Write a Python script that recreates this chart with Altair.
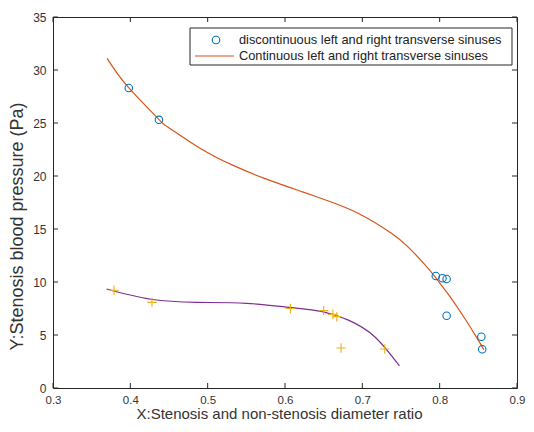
import altair as alt
import pandas as pd

# Data
circ_x = [0.398, 0.437, 0.795, 0.8036, 0.809, 0.809, 0.8539, 0.855]
circ_y = [28.3, 25.3, 10.57, 10.35, 10.28, 6.82, 4.84, 3.65]

orange_x = [0.370, 0.397, 0.4375, 0.448, 0.4907, 0.533, 0.576, 0.6227, 0.6525,
            0.695, 0.7377, 0.759, 0.780, 0.797, 0.8143, 0.831, 0.848, 0.857]
orange_y = [31.1, 28.4, 25.3, 24.65, 22.6, 21.0, 19.7, 18.5, 17.74,
            16.47, 14.59, 13.31, 11.71, 10.21, 8.52, 6.72, 4.75, 3.62]

plus_x = [0.379, 0.428, 0.607, 0.650, 0.662, 0.667, 0.6725, 0.729]
plus_y = [9.22, 8.08, 7.5, 7.3, 6.95, 6.73, 3.78, 3.68]

purple_x = [0.3693, 0.4268, 0.4865, 0.55, 0.6056, 0.648, 0.682, 0.716, 0.748]
purple_y = [9.34, 8.37, 8.08, 7.99, 7.6, 7.2, 6.4, 4.84, 2.08]

x_ticks = [0.3, 0.4, 0.5, 0.6, 0.7, 0.8, 0.9]
y_ticks = [0, 5, 10, 15, 20, 25, 30, 35]

legend_labels = ["discontinuous left and right transverse sinuses",
                 "Continuous left and right transverse sinuses"]

W, H = 464, 371
FONT = "Liberation Sans"
AX = "#262626"
TXT = "#333333"

xs = alt.Scale(domain=[0.3, 0.9], nice=False, zero=False)
ys = alt.Scale(domain=[0, 35], nice=False, zero=False)

xaxis = alt.Axis(values=x_ticks, format=".1f", title="X:Stenosis and non-stenosis diameter ratio",
                 grid=False, ticks=False, domain=False, labelFlush=False, labelPadding=6,
                 labelFontSize=11.5, labelColor=TXT, titleFontSize=15, titleFontWeight="normal",
                 titleColor=TXT, titleX=226, titleY=30, titleBaseline="alphabetic",
                 labelFont=FONT, titleFont=FONT)
yaxis = alt.Axis(values=y_ticks, format="d", title="Y:Stenosis blood pressure (Pa)",
                 grid=False, ticks=False, domain=False, labelFlush=False, labelPadding=7,
                 labelFontSize=12, labelColor=TXT, titleFontSize=18, titleFontWeight="normal",
                 titleColor=TXT, titlePadding=6, titleY=209, labelFont=FONT, titleFont=FONT)

df_c = pd.DataFrame({"x": circ_x, "y": circ_y})
df_o = pd.DataFrame({"x": orange_x, "y": orange_y})
df_p = pd.DataFrame({"x": plus_x, "y": plus_y})
df_u = pd.DataFrame({"x": purple_x, "y": purple_y})
df_xt = pd.DataFrame({"x": x_ticks})
df_yt = pd.DataFrame({"y": y_ticks})

orange = alt.Chart(df_o).mark_line(color="#D95319", strokeWidth=1.2, interpolate="natural").encode(
    x=alt.X("x:Q", scale=xs, axis=xaxis), y=alt.Y("y:Q", scale=ys, axis=yaxis))
purple = alt.Chart(df_u).mark_line(color="#7E2F8E", strokeWidth=1.2, interpolate="natural").encode(
    x=alt.X("x:Q", scale=xs), y=alt.Y("y:Q", scale=ys))
circles = alt.Chart(df_c).mark_point(shape="circle", filled=False, color="#0072BD", size=56,
                                     strokeWidth=1.1, opacity=1).encode(
    x=alt.X("x:Q", scale=xs), y=alt.Y("y:Q", scale=ys))
pluses = alt.Chart(df_p).mark_point(shape="M-1,0H1M0,-1V1", filled=False, color="#EDB120", size=90,
                                    strokeWidth=1.1, opacity=1).encode(
    x=alt.X("x:Q", scale=xs), y=alt.Y("y:Q", scale=ys))

# inward ticks on all four sides
tb = alt.Chart(df_xt).mark_rule(color=AX, strokeWidth=1).encode(
    x=alt.X("x:Q", scale=xs), y=alt.value(H), y2=alt.value(H - 5))
tt = alt.Chart(df_xt).mark_rule(color=AX, strokeWidth=1).encode(
    x=alt.X("x:Q", scale=xs), y=alt.value(0), y2=alt.value(5))
tl = alt.Chart(df_yt).mark_rule(color=AX, strokeWidth=1).encode(
    y=alt.Y("y:Q", scale=ys), x=alt.value(0), x2=alt.value(5))
tr = alt.Chart(df_yt).mark_rule(color=AX, strokeWidth=1).encode(
    y=alt.Y("y:Q", scale=ys), x=alt.value(W), x2=alt.value(W - 5))

# legend
lbox = alt.Chart(pd.DataFrame({"a": [0]})).mark_rect(fill="white", stroke=AX, strokeWidth=1).encode(
    x=alt.value(137), x2=alt.value(459), y=alt.value(11), y2=alt.value(48))
lcirc = alt.Chart(pd.DataFrame({"a": [0]})).mark_point(shape="circle", filled=False, color="#0072BD",
                                                    size=56, strokeWidth=1.1, opacity=1).encode(
    x=alt.value(163), y=alt.value(23))
lline = alt.Chart(pd.DataFrame({"a": [0]})).mark_rule(color="#D95319", strokeWidth=1.2).encode(
    x=alt.value(142), x2=alt.value(181), y=alt.value(39))
df_lt = pd.DataFrame({"t": legend_labels, "row": [0, 1]})
ltext1 = alt.Chart(df_lt[df_lt.row == 0]).mark_text(align="left", baseline="middle", font=FONT,
                                                 fontSize=12.8, color="#222222").encode(
    x=alt.value(186), y=alt.value(23), text="t:N")
ltext2 = alt.Chart(df_lt[df_lt.row == 1]).mark_text(align="left", baseline="middle", font=FONT,
                                                 fontSize=12.8, color="#222222").encode(
    x=alt.value(186), y=alt.value(39), text="t:N")

chart = alt.layer(orange, purple, circles, pluses, tb, tt, tl, tr,
                  lbox, lcirc, lline, ltext1, ltext2).properties(
    width=W, height=H,
    autosize=alt.AutoSizeParams(type="none"),
    padding={"left": 45, "top": 9, "right": 9, "bottom": 36},
    background="white",
).configure_view(stroke=AX, strokeWidth=1)

chart.save("out.html", embed_options={"renderer": "svg", "actions": False})
